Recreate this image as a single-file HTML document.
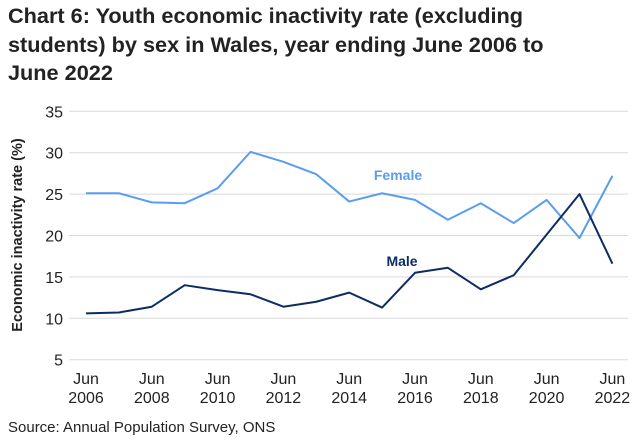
<!DOCTYPE html>
<html><head><meta charset="utf-8"><style>
body{margin:0;background:#fff;width:638px;height:443px;overflow:hidden;font-family:"Liberation Sans",Arial,sans-serif}
h1{position:absolute;left:8px;top:2px;margin:0;font-size:21.7px;line-height:28.5px;font-weight:bold;color:#222;white-space:nowrap}
</style></head><body>
<h1>Chart 6: Youth economic inactivity rate (excluding<br>students) by sex in Wales, year ending June 2006 to<br>June 2022</h1>
<svg id="s" width="638" height="443" style="position:absolute;left:0;top:0" font-family="Liberation Sans, Arial, sans-serif"></svg>
<script>
var s=document.getElementById('s'),h='';
function Y(v){return 359.7-(v-5)*8.28}
function X(i){return 86+32.9*i}
for(var v=5;v<=35;v+=5){h+='<line x1="69" x2="628" y1="'+Y(v)+'" y2="'+Y(v)+'" stroke="#d9d9d9" stroke-width="1"/>';
h+='<text x="63" y="'+(Y(v)+6)+'" font-size="16" text-anchor="end" fill="#222">'+v+'</text>';}
for(var i=0;i<=16;i+=2){h+='<text x="'+X(i)+'" y="384" font-size="16" text-anchor="middle" fill="#222">Jun</text><text x="'+X(i)+'" y="403" font-size="16" text-anchor="middle" fill="#222">'+(2006+i)+'</text>';}
var f=[25.1,25.1,24.0,23.9,25.7,30.1,28.9,27.4,24.1,25.1,24.3,21.9,23.9,21.5,24.3,19.7,27.2];
var m=[10.6,10.7,11.4,14.0,13.4,12.9,11.4,12.0,13.1,11.3,15.5,16.1,13.5,15.2,20.1,25.0,16.6];
function pl(a,c){return '<polyline fill="none" stroke="'+c+'" stroke-width="2" stroke-linejoin="round" points="'+a.map(function(v,i){return X(i)+','+Y(v)}).join(' ')+'"/>'}
h+=pl(f,'#5a9df0')+pl(m,'#0b2d63');
h+='<text x="398" y="180" font-size="14" font-weight="bold" text-anchor="middle" fill="#5a9df0">Female</text>';
h+='<text x="402" y="266" font-size="14" font-weight="bold" text-anchor="middle" fill="#0b2d63">Male</text>';
h+='<text transform="translate(22,235) rotate(-90)" font-size="14.5" font-weight="bold" text-anchor="middle" fill="#222">Economic inactivity rate (%)</text>';
h+='<text x="8" y="432" font-size="15" fill="#222">Source: Annual Population Survey, ONS</text>';
s.innerHTML=h;
</script>
</body></html>
